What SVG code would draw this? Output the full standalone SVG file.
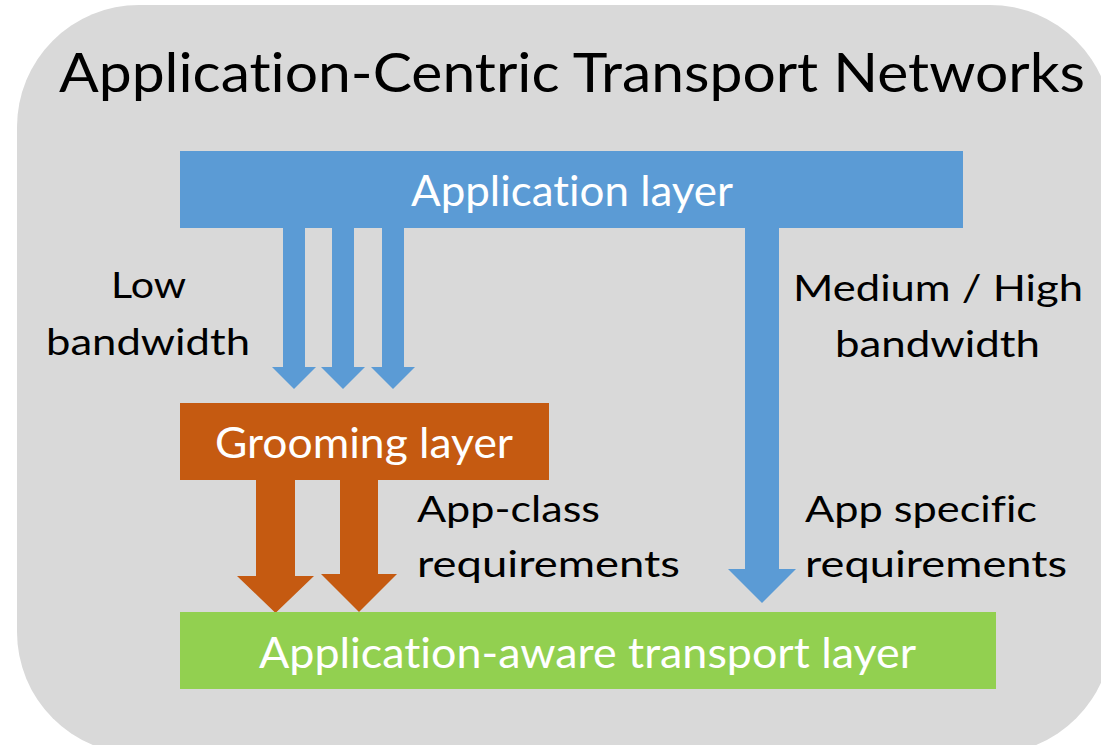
<svg xmlns="http://www.w3.org/2000/svg" width="1101" height="745" viewBox="0 0 1101 745">
<style>
text { font-family: Lato, "Open Sans", "Liberation Sans", sans-serif; font-variant-ligatures: none; font-feature-settings: "liga" 0, "clig" 0; }
.title { font-size: 54px; fill: #000; }
.lbl { font-size: 37px; fill: #000; }
.layer { font-size: 43px; fill: #fff; }
.blue { fill: #5B9BD5; }
.orange { fill: #C55A11; }
.green { fill: #92D050; }
</style>
<rect x="17" y="5" width="1095" height="749" rx="122" ry="122" fill="#D9D9D9"/>
<text class="title" x="59" y="92" textLength="1026" lengthAdjust="spacingAndGlyphs">Application-Centric Transport Networks</text>
<g id="connectors">
  <polygon class="blue" points="283,226 305,226 305,367 316,367 294,389 272,367 283,367"/>
  <polygon class="blue" points="332,226 354,226 354,367 365,367 343,389 321,367 332,367"/>
  <polygon class="blue" points="382,226 404,226 404,367 415,367 393,389 371,367 382,367"/>
  <polygon class="blue" points="745,226 779,226 779,569 796,569 762,603 728,569 745,569"/>
  <polygon class="orange" points="256,478 295,478 295,576 314,576 275.5,613 237,576 256,576"/>
  <polygon class="orange" points="340,478 378,478 378,574 397,574 359,612 321,574 340,574"/>
</g>
<g id="application-layer">
  <rect class="blue" x="180" y="151" width="783" height="77"/>
  <text class="layer" x="411" y="206" textLength="322" lengthAdjust="spacingAndGlyphs">Application layer</text>
</g>
<g id="grooming-layer">
  <rect class="orange" x="180" y="403" width="369" height="77"/>
  <text class="layer" x="215" y="458" textLength="298" lengthAdjust="spacingAndGlyphs">Grooming layer</text>
</g>
<g id="transport-layer">
  <rect class="green" x="180" y="612" width="816" height="77"/>
  <text class="layer" x="259" y="668" textLength="657" lengthAdjust="spacingAndGlyphs">Application-aware transport layer</text>
</g>
<g id="labels">
  <text class="lbl" x="111" y="298" textLength="75" lengthAdjust="spacingAndGlyphs">Low</text>
  <text class="lbl" x="46" y="355" textLength="204" lengthAdjust="spacingAndGlyphs">bandwidth</text>
  <text class="lbl" x="793" y="301" textLength="290" lengthAdjust="spacingAndGlyphs">Medium / High</text>
  <text class="lbl" x="835" y="357" textLength="205" lengthAdjust="spacingAndGlyphs">bandwidth</text>
  <text class="lbl" x="417" y="522" textLength="183" lengthAdjust="spacingAndGlyphs">App-class</text>
  <text class="lbl" x="417" y="577" textLength="263" lengthAdjust="spacingAndGlyphs">requirements</text>
  <text class="lbl" x="805" y="522" textLength="232" lengthAdjust="spacingAndGlyphs">App specific</text>
  <text class="lbl" x="805" y="577" textLength="262" lengthAdjust="spacingAndGlyphs">requirements</text>
</g>
</svg>
